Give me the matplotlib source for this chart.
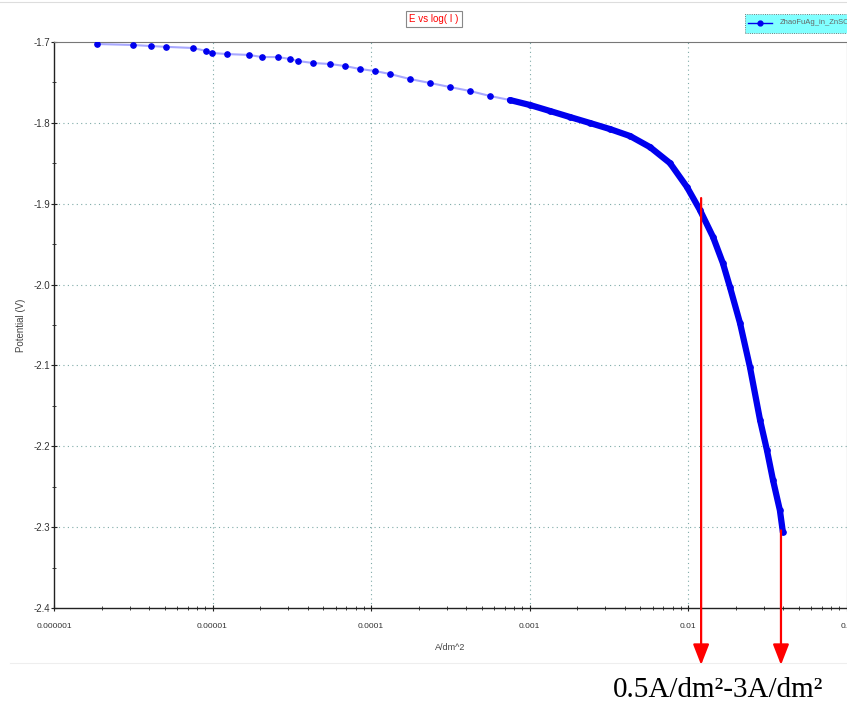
import matplotlib
matplotlib.use("Agg")
import matplotlib.pyplot as plt
from matplotlib.patches import Rectangle
from matplotlib.lines import Line2D
from matplotlib.ticker import FixedLocator, NullFormatter, LogLocator

# ---- data ----
current = [1.87e-6, 3.15e-6, 4.09e-6, 5.09e-6, 7.53e-6, 9.1e-6, 9.93e-6, 1.23e-5,
           1.70e-5, 2.05e-5, 2.59e-5, 3.08e-5, 3.46e-5, 4.31e-5, 5.51e-5, 6.85e-5,
           8.52e-5, 1.06e-4, 1.32e-4, 1.76e-4, 2.36e-4, 3.15e-4, 4.21e-4, 5.64e-4,
           7.53e-4, 1.01e-3, 1.35e-3, 1.80e-3, 2.41e-3, 3.22e-3, 4.31e-3, 5.76e-3,
           7.70e-3, 9.86e-3, 1.19e-2, 1.44e-2, 1.66e-2, 1.84e-2, 2.13e-2, 2.46e-2,
           2.85e-2, 3.15e-2, 3.44e-2, 3.80e-2, 3.97e-2]
potential = [-1.7025, -1.7037, -1.7050, -1.7060, -1.7074, -1.7110, -1.7136, -1.7149,
             -1.7160, -1.7186, -1.7186, -1.7210, -1.7235, -1.7260, -1.7272, -1.7297,
             -1.7334, -1.7359, -1.7396, -1.7458, -1.7507, -1.7557, -1.7606, -1.7668,
             -1.7718, -1.7780, -1.7854, -1.7928, -1.8002, -1.8077, -1.8163, -1.8300,
             -1.8498, -1.8795, -1.9079, -1.9413, -1.9735, -2.0032, -2.0478, -2.1022,
             -2.1678, -2.2050, -2.2421, -2.2792, -2.3064]
dense_start = 24  # index from which the measured points merge into a solid band

x_ticks = [1e-6, 1e-5, 1e-4, 1e-3, 1e-2, 1e-1]
x_ticklabels = ["0.000001", "0.00001", "0.0001", "0.001", "0.01", "0.1"]
y_ticks = [-1.7, -1.8, -1.9, -2.0, -2.1, -2.2, -2.3, -2.4]
y_ticklabels = ["-1.7", "-1.8", "-1.9", "-2.0", "-2.1", "-2.2", "-2.3", "-2.4"]
arrow_currents = [1.21e-2, 3.86e-2]
arrow_potentials = [-1.893, -2.304]

W, H = 847, 706
fig = plt.figure(figsize=(W / 100, H / 100), dpi=100)
fig.patch.set_facecolor("white")

ax = fig.add_axes([54 / W, 1 - 608 / H, 792.5 / W, 566 / H])
ax.set_xscale("log")
ax.set_xlim(1e-6, 1e-1)
ax.set_ylim(-2.4, -1.7)

# grid
grid_col = "#7faaa8"
for yv in y_ticks[1:-1]:
    ax.axhline(yv, color=grid_col, lw=0.8, ls=(0, (1, 3)), zorder=1)
for xv in x_ticks[1:-1]:
    ax.axvline(xv, color=grid_col, lw=0.8, ls=(0, (1, 3)), zorder=1)

# data
ax.plot(current, potential, "-", color="#a8a8ff", lw=1.5, zorder=2)
ax.plot(current[dense_start:], potential[dense_start:], "-", color="#0000ee",
        lw=4.5, solid_capstyle="round", solid_joinstyle="round", zorder=3)
ax.plot(current, potential, "o", color="#0000ee", ms=3.8, mec="#0000ee", zorder=4)

# ticks
ax.set_xticks(x_ticks)
ax.set_xticklabels(x_ticklabels)
ax.xaxis.set_minor_locator(LogLocator(base=10, subs=range(2, 10)))
ax.xaxis.set_minor_formatter(NullFormatter())
ax.set_yticks(y_ticks)
ax.set_yticklabels(y_ticklabels)
ax.yaxis.set_minor_locator(FixedLocator([-1.75, -1.85, -1.95, -2.05, -2.15, -2.25, -2.35]))

fam = ["Liberation Sans", "DejaVu Sans"]
for lab in ax.get_xticklabels():
    lab.set_fontfamily(fam)
    lab.set_fontsize(6)
    lab.set_color("#333333")
for lab in ax.get_yticklabels():
    lab.set_fontfamily(fam)
    lab.set_fontsize(7)
    lab.set_color("#333333")
ax.tick_params(axis="both", which="major", direction="inout", length=5, width=0.8,
               color="#222222")
ax.tick_params(axis="both", which="minor", direction="inout", length=3, width=0.6,
               color="#222222")
ax.tick_params(axis="x", pad=8)
ax.tick_params(axis="y", pad=0.5)

for s in ["left", "bottom"]:
    ax.spines[s].set_color("#222222")
    ax.spines[s].set_linewidth(1.0)
for s in ["top", "right"]:
    ax.spines[s].set_color("#777777")
    ax.spines[s].set_linewidth(0.8)

ax.set_ylabel("Potential (V)", fontsize=7, color="#444444", family=fam, labelpad=5)
ax.set_xlabel("A/dm^2", fontsize=6.5, color="#444444", family=fam, labelpad=10)

# title box
fig.text(434 / W, 1 - 19 / H, "E vs log( I )", color="#ff0000", fontsize=7,
         family=fam, ha="center", va="center",
         bbox=dict(boxstyle="square,pad=0.35", fc="white", ec="#888888", lw=0.8))

# legend box (cut by figure edge, as in the reference)
fig.patches.append(Rectangle((745 / W, 1 - 33 / H), 110 / W, 19 / H,
                             transform=fig.transFigure, fc="#80ffff", ec="#555555",
                             lw=0.6, ls=":", zorder=5))
fig.lines.append(Line2D([748 / W, 772 / W], [1 - 23 / H, 1 - 23 / H],
                        transform=fig.transFigure, color="#0000ee", lw=1.0, zorder=6))
fig.lines.append(Line2D([760 / W], [1 - 23 / H], transform=fig.transFigure,
                        color="#0000ee", marker="o", ms=3.5, zorder=6))
fig.text(780 / W, 1 - 23 / H, "ZhaoFuAg_in_ZnSO4", fontsize=5.5, color="#666666",
         family=fam, ha="left", va="center", zorder=7)

# separator lines
fig.lines.append(Line2D([0, 1], [1 - 2 / H, 1 - 2 / H], transform=fig.transFigure,
                        color="#dddddd", lw=0.8))
fig.lines.append(Line2D([10 / W, 1], [1 - 663 / H, 1 - 663 / H],
                        transform=fig.transFigure, color="#eeeeee", lw=0.8))

# red arrows
for xc, yp in zip(arrow_currents, arrow_potentials):
    ax.annotate("", xy=(xc, 1 - 665 / H), xycoords=("data", "figure fraction"),
                xytext=(xc, yp), textcoords="data",
                arrowprops=dict(arrowstyle="-|>,head_length=0.9,head_width=0.35",
                                color="#ff0000", lw=1.6, shrinkA=0, shrinkB=0,
                                mutation_scale=14),
                annotation_clip=False, zorder=6)

fig.text(718 / W, 1 - 690 / H, "0.5A/dm²-3A/dm²", fontsize=21,
         family=["Liberation Serif", "DejaVu Serif"], color="black",
         ha="center", va="center")

fig.savefig("out.png", dpi=100, facecolor="white")
